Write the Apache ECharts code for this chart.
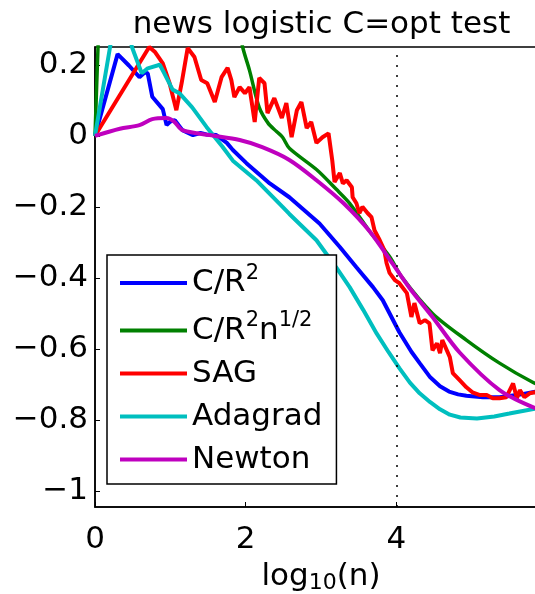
<!DOCTYPE html>
<html>
<head>
<meta charset="utf-8">
<script src="https://cdn.jsdelivr.net/npm/echarts@6/dist/echarts.min.js"></script>
<style>
html,body{margin:0;padding:0;background:#fff;}
#chart{width:535px;height:594px;}
</style>
</head>
<body>
<div id="chart"></div>
<script>
// ---- data (x = log10(n), y = value) ----
const titleText = 'news logistic C=opt test';
const seriesNames = ['C/R2', 'C/R2n', 'SAG', 'Adagrad', 'Newton'];
const xTicks = [0, 2, 4];
const yTicks = [-1, -0.8, -0.6, -0.4, -0.2, 0, 0.2];
const vLineX = 4;

const dataCR2 = [[0,0],[0.30,0.23],[0.45,0.198],[0.59,0.165],[0.66,0.178],[0.70,0.176],[0.76,0.11],[0.9,0.075],[0.95,0.03],[1.0,0.04],[1.06,0.044],[1.16,0.016],[1.3,0.002],[1.4,0.008],[1.48,0.004],[1.61,0.002],[1.75,-0.02],[1.83,-0.04],[2.01,-0.077],[2.32,-0.134],[2.58,-0.173],[2.98,-0.247],[3.25,-0.313],[3.47,-0.37],[3.69,-0.426],[3.82,-0.463],[4.04,-0.553],[4.2,-0.608],[4.31,-0.64],[4.45,-0.68],[4.58,-0.705],[4.7,-0.72],[4.82,-0.728],[4.93,-0.732],[5.15,-0.736],[5.37,-0.736],[5.6,-0.73],[5.81,-0.722],[6.0,-0.715]];

const dataCR2n = [[0,0],[0.04,0.25],[0.12,0.7],[0.8,1.0],[1.6,0.6],[1.96,0.25],[2.05,0.185],[2.18,0.08],[2.30,0.035],[2.41,0.012],[2.49,-0.004],[2.58,-0.035],[2.94,-0.095],[3.2,-0.15],[3.38,-0.19],[3.65,-0.27],[3.91,-0.34],[4.08,-0.4],[4.48,-0.5],[4.93,-0.575],[5.37,-0.64],[5.81,-0.694],[6.0,-0.71]];

const dataSAG = [[0,0],[0.72,0.25],[0.8,0.235],[0.90,0.204],[0.99,0.148],[1.08,0.072],[1.15,0.148],[1.23,0.247],[1.32,0.222],[1.41,0.157],[1.49,0.148],[1.59,0.095],[1.68,0.165],[1.76,0.191],[1.81,0.157],[1.85,0.109],[1.92,0.137],[1.99,0.12],[2.05,0.137],[2.12,0.039],[2.18,0.163],[2.25,0.148],[2.29,0.064],[2.38,0.106],[2.48,0.05],[2.54,0.092],[2.61,-0.004],[2.68,0.072],[2.74,0.095],[2.81,0.022],[2.87,0.039],[2.94,-0.02],[3.02,-0.004],[3.1,0.007],[3.15,-0.07],[3.18,-0.13],[3.25,-0.105],[3.29,-0.134],[3.34,-0.125],[3.41,-0.145],[3.42,-0.173],[3.47,-0.19],[3.51,-0.218],[3.55,-0.2],[3.62,-0.218],[3.67,-0.229],[3.71,-0.266],[3.78,-0.294],[3.84,-0.322],[3.87,-0.358],[3.91,-0.386],[3.98,-0.406],[4.04,-0.415],[4.14,-0.443],[4.2,-0.51],[4.24,-0.471],[4.31,-0.528],[4.38,-0.519],[4.44,-0.528],[4.48,-0.604],[4.54,-0.584],[4.58,-0.612],[4.61,-0.575],[4.71,-0.623],[4.75,-0.668],[4.84,-0.688],[4.93,-0.708],[5.01,-0.722],[5.11,-0.73],[5.2,-0.73],[5.28,-0.739],[5.37,-0.739],[5.46,-0.736],[5.55,-0.697],[5.6,-0.739],[5.64,-0.716],[5.7,-0.736],[5.77,-0.725],[5.84,-0.722],[5.92,-0.73],[6.0,-0.725]];

const dataAdagrad = [[0,0],[0.2,0.25],[0.34,0.42],[0.49,0.25],[0.62,0.176],[0.70,0.19],[0.86,0.2],[0.92,0.176],[1.03,0.13],[1.12,0.12],[1.29,0.08],[1.48,0.025],[1.69,-0.03],[1.83,-0.07],[2.14,-0.125],[2.49,-0.2],[2.58,-0.22],[2.94,-0.294],[3.2,-0.37],[3.38,-0.426],[3.56,-0.49],[3.74,-0.557],[3.9,-0.61],[4.04,-0.654],[4.18,-0.695],[4.31,-0.725],[4.45,-0.75],[4.58,-0.77],[4.71,-0.785],[4.85,-0.793],[5.07,-0.796],[5.3,-0.79],[5.5,-0.782],[5.84,-0.768],[6.0,-0.762]];

const dataNewton = [[0,0],[0.33,0.02],[0.59,0.03],[0.76,0.047],[0.95,0.05],[1.05,0.04],[1.16,0.016],[1.52,0.002],[1.92,-0.012],[2.22,-0.032],[2.58,-0.068],[2.94,-0.125],[3.3,-0.19],[3.65,-0.27],[3.95,-0.36],[4.18,-0.43],[4.48,-0.51],[4.84,-0.61],[5.37,-0.716],[5.81,-0.764],[6.0,-0.775]];

const seriesData = [dataCR2, dataCR2n, dataSAG, dataAdagrad, dataNewton];
const seriesColors = ['#0000ff', '#008000', '#ff0000', '#00bfbf', '#bf00bf'];
const seriesWidths = [4, 3.5, 4, 4, 4];
const seriesSmooth = [false, 0.3, false, false, 0.3];

const FONT = 'DejaVu Sans';
const legendLabels = {
  'C/R2': '{b|C/R}{sup|2}',
  'C/R2n': '{b|C/R}{sup|2}{b|n}{sup|1/2}',
  'SAG': '{n|SAG}',
  'Adagrad': '{n|Adagrad}',
  'Newton': '{n|Newton}'
};

function fmtY(v) {
  const r = Math.round(v * 10) / 10;
  if (r === 0) return '0';
  return (r < 0 ? '\u2212' : '') + String(Math.abs(r));
}

const chart = echarts.init(document.getElementById('chart'), null, {renderer: 'canvas'});

const series = seriesNames.map((name, i) => ({
  name: name,
  type: 'line',
  data: seriesData[i],
  showSymbol: false,
  symbol: 'none',
  smooth: seriesSmooth[i],
  clip: true,
  lineStyle: {color: seriesColors[i], width: seriesWidths[i]},
  itemStyle: {color: seriesColors[i]},
  z: 2 + i * 0.01,
  animation: false
}));
series[0].markLine = {
  silent: true,
  symbol: ['none', 'none'],
  label: {show: false},
  lineStyle: {color: '#000', type: [2, 8], width: 1.5},
  data: [{xAxis: vLineX}],
  animation: false
};

chart.setOption({
  animation: false,
  backgroundColor: '#fff',
  title: {
    text: titleText,
    left: 321.5,
    top: 8,
    textAlign: 'center',
    padding: 0,
    textStyle: {fontFamily: FONT, fontSize: 31, fontWeight: 'normal', color: '#000', lineHeight: 34}
  },
  grid: {
    left: 95, top: 47, width: 452, height: 460,
    containLabel: false,
    outerBoundsMode: 'none',
    show: true,
    borderColor: '#000',
    borderWidth: 1.5,
    backgroundColor: 'transparent'
  },
  legend: {
    orient: 'vertical',
    left: 107,
    top: 255,
    padding: [8, 14, 9, 13],
    itemGap: 12,
    itemWidth: 67,
    itemHeight: 4,
    icon: 'rect',
    selectedMode: false,
    borderColor: '#000',
    borderWidth: 1.5,
    backgroundColor: '#fff',
    data: seriesNames,
    formatter: name => legendLabels[name],
    textStyle: {
      fontFamily: FONT, fontSize: 31, color: '#000',
      rich: {
        n: {fontFamily: FONT, fontSize: 31, lineHeight: 32, color: '#000'},
        b: {fontFamily: FONT, fontSize: 31, lineHeight: 40, color: '#000'},
        sup: {fontFamily: FONT, fontSize: 21, lineHeight: 14, verticalAlign: 'top', color: '#000'}
      }
    }
  },
  xAxis: {
    type: 'value',
    min: 0, max: 6, interval: 2,
    name: '{a|log}{sub|10}{a|(n)}',
    nameLocation: 'middle',
    nameGap: 44,
    nameTextStyle: {
      rich: {
        a: {fontFamily: FONT, fontSize: 31, lineHeight: 34, color: '#000'},
        sub: {fontFamily: FONT, fontSize: 22, lineHeight: 14, verticalAlign: 'bottom', color: '#000'}
      }
    },
    axisLine: {show: true, onZero: false, lineStyle: {color: '#000', width: 1.5}},
    axisTick: {show: true, inside: true, length: 5, lineStyle: {color: '#000', width: 1}, customValues: xTicks},
    axisLabel: {show: true, customValues: xTicks, margin: 16, fontFamily: FONT, fontSize: 31, lineHeight: 34, color: '#000', formatter: v => String(v)},
    splitLine: {show: false}
  },
  yAxis: {
    type: 'value',
    min: -1.045, max: 0.25,
    axisLine: {show: true, onZero: false, lineStyle: {color: '#000', width: 1.5}},
    axisTick: {show: true, inside: true, length: 5, lineStyle: {color: '#000', width: 1}, customValues: yTicks},
    axisLabel: {show: true, customValues: yTicks, margin: 7, fontFamily: FONT, fontSize: 31, lineHeight: 34, color: '#000', formatter: fmtY},
    splitLine: {show: false}
  },
  series: series
});
</script>
</body>
</html>
